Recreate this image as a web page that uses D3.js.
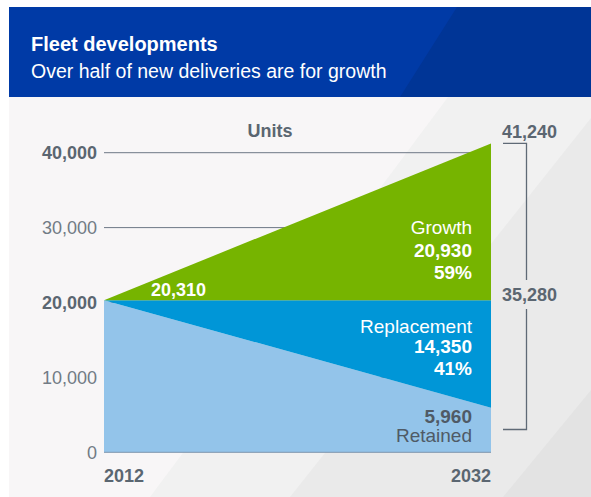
<!DOCTYPE html>
<html><head><meta charset="utf-8">
<script src="https://cdn.jsdelivr.net/npm/d3@7/dist/d3.min.js"></script>
<style>
html,body{margin:0;padding:0;background:#fff;}
svg{display:block;font-family:"Liberation Sans",Arial,Helvetica,sans-serif;}
</style></head>
<body>
<script>
// ---- data ----
const years = [2012, 2032];
const retained = [20310, 5960];
const replacement = [0, 14350];
const growth = [0, 20930];
const yTickValues = [0, 10000, 20000, 30000, 40000];
const boldTicks = [20000, 40000];
const seriesKeys = ["retained", "replacement", "growth"];
const seriesColors = {retained: "#93c4ea", replacement: "#0096d7", growth: "#76b400"};
const totalLabel = "41,240";
const newDeliveriesLabel = "35,280";
const startLabel = "20,310";
const growthLabels = ["Growth", "20,930", "59%"];
const replacementLabels = ["Replacement", "14,350", "41%"];
const retainedLabels = ["5,960", "Retained"];

const W = 591, H = 497;
const svg = d3.select("body").append("svg").attr("width", W).attr("height", H);

// background panels
svg.append("rect").attr("x", 9).attr("y", 97).attr("width", W - 9).attr("height", H - 97).attr("fill", "#f8f6f7");
svg.append("polygon").attr("points", "448,97 591,97 591,497 150,497").attr("fill", "#f1f1f1");
svg.append("polygon").attr("points", "591,118 591,497 290,497").attr("fill", "#eaeaea");
svg.append("polygon").attr("points", "591,390 591,497 503,497").attr("fill", "#e3e3e3");

// header
svg.append("rect").attr("x", 9).attr("y", 7).attr("width", W - 9).attr("height", 90).attr("fill", "#003aa6");
svg.append("polygon").attr("points", "457,7 591,7 591,97 400,97").attr("fill", "#003596");
svg.append("text").attr("x", 31).attr("y", 51).attr("fill", "#fff")
  .attr("font-size", 20).attr("font-weight", "bold").text("Fleet developments");
svg.append("text").attr("x", 31).attr("y", 78).attr("fill", "#fff")
  .attr("font-size", 19.5).text("Over half of new deliveries are for growth");

// scales
const x = d3.scaleLinear().domain(d3.extent(years)).range([104, 491]);
const y = d3.scaleLinear().domain([0, 40000]).range([452.3, 152.7]);

const rows = years.map((yr, i) => ({year: yr, retained: retained[i], replacement: replacement[i], growth: growth[i]}));
const stacked = d3.stack().keys(seriesKeys)(rows);

// gridlines
const g = svg.append("g");
g.selectAll("line.grid").data(yTickValues.filter(v => v > 0)).join("line")
  .attr("x1", x(2012)).attr("x2", x(2032))
  .attr("y1", d => y(d)).attr("y2", d => y(d))
  .attr("stroke", "#6e7886").attr("stroke-width", 1);

// areas
const area = d3.area().x(d => x(d.data.year)).y0(d => y(d[0])).y1(d => y(d[1]));
g.selectAll("path.area").data(stacked).join("path")
  .attr("d", area).attr("fill", d => seriesColors[d.key]);

// baseline axis
g.append("line").attr("x1", x(2012)).attr("x2", x(2032)).attr("y1", y(0)).attr("y2", y(0))
  .attr("stroke", "#7d95ad").attr("stroke-width", 1);

// y tick labels
const textDark = "#5b6671";
g.selectAll("text.ytick").data(yTickValues).join("text")
  .attr("x", 97).attr("y", d => y(d)).attr("dy", "0.36em").attr("text-anchor", "end")
  .attr("font-size", 18)
  .attr("font-weight", d => boldTicks.includes(d) ? "bold" : "normal")
  .attr("fill", d => boldTicks.includes(d) ? textDark : "#727b85")
  .text(d => d3.format(",")(d));

// x labels
g.append("text").attr("x", x(2012)).attr("y", 482).attr("font-size", 18).attr("font-weight", "bold")
  .attr("fill", textDark).text(years[0]);
g.append("text").attr("x", x(2032)).attr("y", 482).attr("text-anchor", "end").attr("font-size", 18)
  .attr("font-weight", "bold").attr("fill", textDark).text(years[1]);

// Units
g.append("text").attr("x", 270).attr("y", 137).attr("text-anchor", "middle").attr("font-size", 18)
  .attr("font-weight", "bold").attr("fill", textDark).text("Units");

// inner labels
const lx = x(2032) - 19;
function stackLabels(lines, baselines, bolds, color) {
  lines.forEach((t, i) => {
    g.append("text").attr("x", lx).attr("y", baselines[i]).attr("text-anchor", "end")
      .attr("font-size", 19).attr("font-weight", bolds[i] ? "bold" : "normal")
      .attr("fill", color).text(t);
  });
}
stackLabels(growthLabels, [234, 256.7, 279], [false, true, true], "#fff");
stackLabels(replacementLabels, [333.3, 353, 375], [false, true, true], "#fff");
stackLabels(retainedLabels, [422.7, 441.7], [true, false], "#4f5a66");

g.append("text").attr("x", x(2012) + 47).attr("y", y(retained[0]) - 4).attr("font-size", 18)
  .attr("font-weight", "bold").attr("fill", "#fff").text(startLabel);

// bracket
const bx = 526.5, bl = 503;
const yTop = y(d3.sum([retained[1], replacement[1], growth[1]]));
const yBot = 429.5;
g.append("path").attr("d", `M${bl},${yTop}H${bx}V280`).attr("fill", "none").attr("stroke", "#5f6a76").attr("stroke-width", 1.3);
g.append("path").attr("d", `M${bx},309V${yBot}H${bl}`).attr("fill", "none").attr("stroke", "#5f6a76").attr("stroke-width", 1.3);
g.append("text").attr("x", 502).attr("y", 138).attr("font-size", 18).attr("font-weight", "bold")
  .attr("fill", textDark).text(totalLabel);
g.append("text").attr("x", 502).attr("y", 301).attr("font-size", 18).attr("font-weight", "bold")
  .attr("fill", textDark).text(newDeliveriesLabel);
</script>
</body></html>
